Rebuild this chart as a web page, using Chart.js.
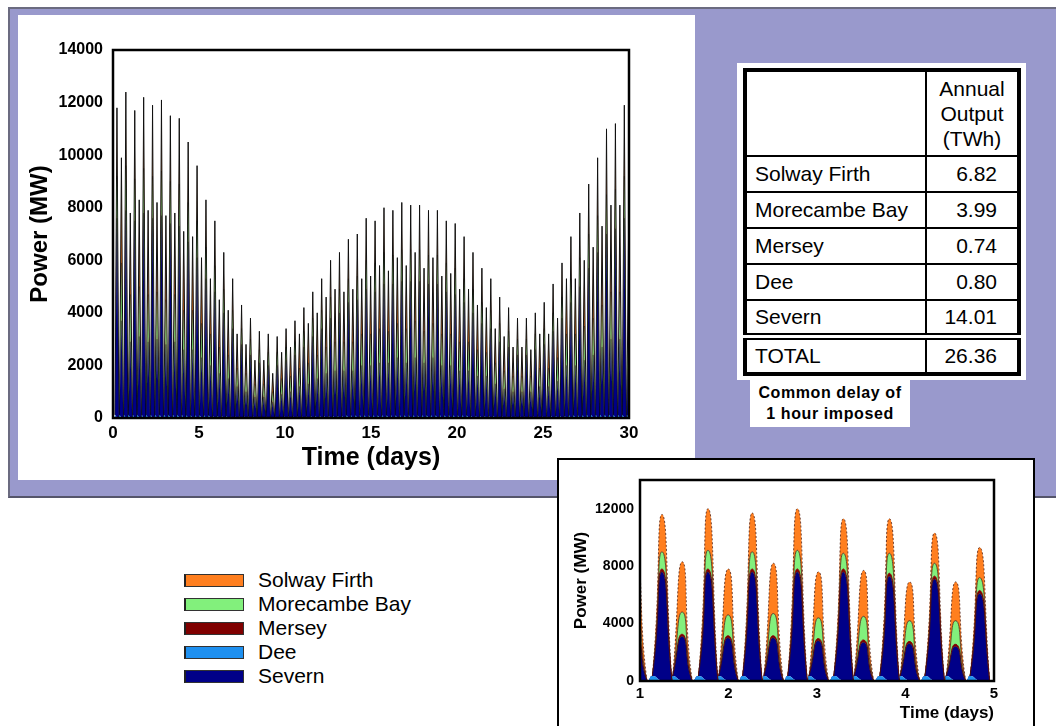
<!DOCTYPE html>
<html>
<head>
<meta charset="utf-8">
<script src="https://cdn.jsdelivr.net/npm/chart.js@4.4.1/dist/chart.umd.min.js"></script>
<style>
  html, body { margin:0; padding:0; background:#fff; }
  body { width:1056px; height:726px; position:relative; overflow:hidden; font-family:"Liberation Sans", Arial, sans-serif; }
  .abs { position:absolute; }
  #panel { left:8px; top:7px; width:1048px; height:491px; background:#9999cc; border-top:2px solid #6b6b80; border-left:2px solid #6b6b80; border-bottom:2px solid #55556a; box-sizing:border-box; }
  #mainBox { left:18px; top:15px; width:677px; height:465px; background:#fff; }
  #tblBox { left:737px; top:63px; width:289px; height:317px; background:#fff; }
  #tbl { left:743px; top:68px; width:278px; border:4px solid #000; border-collapse:collapse; box-sizing:border-box; font-size:21px; color:#000; }
  #tbl td { border:2px solid #000; padding:0; }
  #tbl td.n { padding-left:8px; }
  #tbl td.v { text-align:right; padding-right:20px; }
  #tbl tr.tot td { border-top:7px double #000; }
  #cap { left:750px; top:380px; width:160px; height:47px; background:#fff; font-weight:bold; font-size:16px; letter-spacing:0.6px; text-align:center; line-height:21px; padding-top:2px; box-sizing:border-box; }
  #inset { left:557px; top:458px; width:478px; height:290px; background:#fff; border:2px solid #000; box-sizing:border-box; }
  .sw { position:absolute; left:184px; width:60px; height:13px; box-sizing:border-box; border:1px solid #333; border-left:2px solid #222; }
  .lt { position:absolute; left:258px; font-size:21px; line-height:24px; color:#000; }
</style>
</head>
<body>
<div id="panel" class="abs"></div>
<div id="mainBox" class="abs"><canvas id="mainChart" width="677" height="465"></canvas></div>

<div id="tblBox" class="abs"></div>
<table id="tbl" class="abs">
  <tr style="height:86px"><td class="n" style="width:170px"></td><td style="text-align:center;line-height:25px">Annual<br>Output<br>(TWh)</td></tr>
  <tr style="height:36px"><td class="n">Solway Firth</td><td class="v">6.82</td></tr>
  <tr style="height:36px"><td class="n">Morecambe Bay</td><td class="v">3.99</td></tr>
  <tr style="height:36px"><td class="n">Mersey</td><td class="v">0.74</td></tr>
  <tr style="height:36px"><td class="n">Dee</td><td class="v">0.80</td></tr>
  <tr style="height:36px"><td class="n">Severn</td><td class="v">14.01</td></tr>
  <tr class="tot" style="height:38px"><td class="n">TOTAL</td><td class="v">26.36</td></tr>
</table>
<div id="cap" class="abs">Common delay of<br>1 hour imposed</div>

<div id="legend"></div>

<div id="inset" class="abs"><canvas id="insetChart" width="474" height="268"></canvas></div>

<script>
// ---------------- DATA ----------------
const seriesNames = ["Solway Firth", "Morecambe Bay", "Mersey", "Dee", "Severn"];
const seriesColors = { "Solway Firth":"#ff7f1f", "Morecambe Bay":"#82f07c", "Mersey":"#800000", "Dee":"#1e90f0", "Severn":"#000088" };

// Main chart: peak output (MW) of each generation pulse, 30 days.
const tideStartDay = 0.23;     // day of first tall pulse
const tidePeriodDays = 0.5175; // spacing of tall pulses
const halfTideDays = 0.2588;   // offset of short pulse after tall pulse

const severnTall = [7600,7900,7500,7800,7600,7700,7400,7300,6700,6100, 5300,4800,4000,3400,2800,2400,2100,2000,2000,2200, 2400,2700,3100,3400,3800,4000,4400,4500,4900,4800, 5100,5100,5200,5200,5200,5100,5100,4800,4700,4400, 4000,3600,3400,2900,2700,2400,2400,2600,2800,3300, 3800,4400,5000,5700,6300,7000,7200,7600];
const merseyTall = [200,200,200,200,200,200,200,200,200,200, 200,100,100,100,100,100,100,100,100,100, 100,100,100,100,100,100,100,100,200,200, 200,200,200,200,200,200,200,200,100,100, 100,100,100,100,100,100,100,100,100,100, 100,100,200,200,200,200,200,200];
const morecambeTall = [1400,1500,1400,1500,1400,1500,1400,1400,1300,1200, 1000,900,800,600,500,500,400,400,400,400, 400,500,600,600,700,800,800,800,900,900, 1000,900,1000,1000,1000,900,900,900,900,800, 800,700,600,600,500,500,500,500,500,600, 700,800,900,1100,1200,1300,1300,1400];
const solwayTall = [2600,2800,2600,2700,2700,2700,2500,2500,2300,2100, 1800,1700,1400,1200,900,800,700,700,600,700, 800,900,1000,1200,1400,1400,1500,1600,1600,1600, 1700,1700,1800,1700,1700,1700,1700,1600,1700,1600, 1400,1300,1200,1000,900,800,800,800,1000,1100, 1300,1600,1700,1900,2200,2500,2500,2700];

const severnShort = [3700,2900,3100,2900,3000,2800,2900,2600,2600,2300, 2000,1700,1500,1200,1000,800,800,600,900,1000, 1200,1300,1500,1700,1800,1800,1800,2000,2000,2100, 2100,2300,2100,2300,2100,2300,2000,2000,1800,1800, 1600,1600,1300,1100,1000,1000,1000,1200,1200,1400, 2000,2000,2200,2400,2700,3000,3000,2900];
const merseyShort = [200,200,200,200,200,200,200,100,100,100, 100,100,100,100,100,100,100,100,100,100, 100,100,100,100,100,100,100,100,100,100, 100,100,100,100,100,100,100,100,100,100, 100,100,100,100,100,100,100,100,100,100, 100,100,100,100,100,200,200,200];
const morecambeShort = [2000,1600,1700,1600,1600,1500,1600,1400,1400,1200, 1100,900,800,600,600,400,400,300,500,500, 600,700,800,900,1000,1000,1000,1100,1100,1200, 1100,1200,1200,1300,1100,1200,1100,1100,1000,1000, 900,800,700,600,500,500,500,600,600,800, 1100,1100,1200,1300,1500,1600,1600,1600];
const solwayShort = [4000,3100,3300,3200,3400,3200,3100,3000,2800,2500, 2100,1800,1700,1300,1100,900,900,700,1000,1100, 1300,1500,1600,1900,2000,1900,2000,2100,2200,2400, 2300,2500,2400,2600,2400,2500,2200,2300,2000,2000, 1700,1700,1300,1300,1100,1100,1000,1300,1300,1500, 2100,2100,2500,2700,3000,3300,3300,3100];
const deePulse = [120,120,120,120,120,120,120,120,100,100, 100,80,80,60,60,60,50,50,50,60, 60,60,80,80,80,80,100,100,100,100, 100,100,100,100,100,100,100,100,100,100, 80,80,80,60,60,60,60,60,60,80, 80,100,100,120,120,120,120,120];

const mainYTicks = [0,2000,4000,6000,8000,10000,12000,14000];
const mainXTicks = [0,5,10,15,20,25,30];

// Inset: days 1-5, peak of each pulse (MW)
const insetPeakDays  = [0.97,1.25,1.48,1.77,2.00,2.27,2.51,2.78,3.02,3.30,3.53,3.82,4.05,4.33,4.57,4.84];
const insetSevern    = [2900,7600,3100,7600,3000,7600,3000,7600,2800,7600,2700,7300,2600,7100,2400,6100];
const insetMersey    = [150,200,150,200,150,200,150,200,150,200,150,200,150,200,150,200];
const insetMorecambe = [1350,1200,1550,1300,1450,1200,1550,1300,1450,1100,1650,1400,1450,900,1650,900];
const insetSolway    = [3500,2600,3500,2900,3200,2700,3500,2900,3200,2400,3200,2400,2700,2100,2700,2100];
const insetDee       = [300,350,350,350,350,350,350,350,350,350,350,350,350,350,350,350];
const insetYTicks = [0,4000,8000,12000];
const insetXTicks = [1,2,3,4,5];

// ---------------- LEGEND (HTML) ----------------
(function(){
  const lg = document.getElementById('legend');
  seriesNames.forEach((n,i)=>{
    const top = 574 + i*24;
    const sw = document.createElement('div'); sw.className='sw'; sw.style.top = top+'px'; sw.style.background = seriesColors[n];
    const tx = document.createElement('div'); tx.className='lt'; tx.style.top = (top-6)+'px'; tx.textContent = n;
    lg.appendChild(sw); lg.appendChild(tx);
  });
})();

// ---------------- BUILD SERIES ----------------
function buildPulses(list, halfW){
  const out = {Dee:[], Severn:[], Mersey:[], "Morecambe Bay":[], "Solway Firth":[]};
  list.forEach(p=>{
    const b = p.t-halfW, e = p.t+halfW;
    out.Dee.push({x:b,y:p.dee},{x:p.t,y:0},{x:e,y:0});
    out.Severn.push({x:b,y:0},{x:p.t,y:p.sev},{x:e,y:0});
    out.Mersey.push({x:b,y:0},{x:p.t,y:p.mer},{x:e,y:0});
    out["Morecambe Bay"].push({x:b,y:0},{x:p.t,y:p.mor},{x:e,y:0});
    out["Solway Firth"].push({x:b,y:0},{x:p.t,y:p.sol},{x:e,y:0});
  });
  return out;
}
function buildMain(){
  const pulses = [];
  for (let k=0;k<severnTall.length;k++){
    const t = tideStartDay + k*tidePeriodDays;
    pulses.push({t, dee:deePulse[k], sev:severnTall[k], mer:merseyTall[k], mor:morecambeTall[k], sol:solwayTall[k]});
    pulses.push({t:t+halfTideDays, dee:deePulse[k], sev:severnShort[k], mer:merseyShort[k], mor:morecambeShort[k], sol:solwayShort[k]});
  }
  return buildPulses(pulses, 0.11);
}
function buildInset(){
  const pulses = insetPeakDays.map((t,i)=>({t, dee:insetDee[i], sev:insetSevern[i], mer:insetMersey[i], mor:insetMorecambe[i], sol:insetSolway[i]}));
  return buildPulses(pulses, 0.11);
}

const stackOrder = ["Dee","Severn","Mersey","Morecambe Bay","Solway Firth"];

const framePlugin = {
  id:'frame',
  afterDraw(chart, args, opts){
    const a = chart.chartArea, ctx = chart.ctx;
    ctx.save();
    ctx.lineWidth = opts.width || 2;
    ctx.strokeStyle = '#000';
    ctx.strokeRect(a.left, a.top, a.right-a.left, a.bottom-a.top);
    ctx.restore();
  }
};

Chart.defaults.font.family = '"Liberation Sans", Arial, sans-serif';
Chart.defaults.color = '#000';
const plain = v => String(v);

// ---------------- MAIN CHART ----------------
(function(){
  const d = buildMain();
  const borders = { "Dee":0, "Severn":0.5, "Mersey":0, "Morecambe Bay":0.5, "Solway Firth":1 };
  const datasets = stackOrder.map((n,i)=>({
    label:n, data:d[n],
    backgroundColor: seriesColors[n],
    borderColor: n==="Solway Firth" ? '#111' : 'rgba(0,0,0,0.55)',
    borderWidth: borders[n],
    fill: i===0 ? 'origin' : '-1',
    tension: 0, pointRadius: 0
  }));
  new Chart(document.getElementById('mainChart'), {
    type:'line',
    data:{ datasets },
    options:{
      responsive:false, animation:false, devicePixelRatio:1,
      layout:{ padding:{ left:0, right:66, top:35, bottom:0 } },
      plugins:{ legend:{display:false}, tooltip:{enabled:false}, frame:{width:2.5} },
      scales:{
        x:{ type:'linear', min:0, max:30,
            afterBuildTicks(s){ s.ticks = mainXTicks.map(v=>({value:v})); },
            afterFit(s){ s.height = 62; },
            grid:{display:false, drawTicks:false}, border:{display:false},
            ticks:{ padding:5, callback:plain, font:{ family:'"Liberation Sans Narrow", "Liberation Sans", Arial', weight:'bold', size:17 }, maxRotation:0 },
            title:{ display:true, text:'Time (days)', font:{ weight:'bold', size:25 }, padding:{top:0,bottom:7} } },
        y:{ stacked:true, min:0, max:14000,
            afterBuildTicks(s){ s.ticks = mainYTicks.map(v=>({value:v})); },
            afterFit(s){ s.width = 95; },
            grid:{display:false, drawTicks:false}, border:{display:false},
            ticks:{ padding:10, callback:plain, font:{ weight:'bold', size:16 } },
            title:{ display:true, text:'Power (MW)', font:{ weight:'bold', size:24 }, padding:{top:8,bottom:0} } }
      }
    },
    plugins:[framePlugin]
  });
})();

// ---------------- INSET CHART ----------------
(function(){
  const d = buildInset();
  const datasets = stackOrder.map((n,i)=>({
    label:n, data:d[n],
    backgroundColor: seriesColors[n],
    borderColor: n==="Mersey" ? '#800000' : 'rgba(70,20,10,0.75)',
    borderWidth: n==="Dee" ? 0 : 1,
    borderDash: n==="Solway Firth" ? [2,2] : [],
    fill: i===0 ? 'origin' : '-1',
    tension: 0.6, pointRadius:0
  }));
  new Chart(document.getElementById('insetChart'), {
    type:'line',
    data:{ datasets },
    options:{
      responsive:false, animation:false, devicePixelRatio:1,
      layout:{ padding:{ left:0, right:39, top:20, bottom:0 } },
      plugins:{ legend:{display:false}, tooltip:{enabled:false}, frame:{width:2.5} },
      scales:{
        x:{ type:'linear', min:1, max:5,
            afterBuildTicks(s){ s.ticks = insetXTicks.map(v=>({value:v})); },
            afterFit(s){ s.height = 47; },
            grid:{display:false, drawTicks:false}, border:{display:false},
            ticks:{ padding:4, callback:plain, font:{ weight:'bold', size:15 }, maxRotation:0 },
            title:{ display:true, text:'Time (days)', align:'end', font:{ weight:'bold', size:17 }, padding:{top:0,bottom:4} } },
        y:{ stacked:true, min:0, max:14000,
            afterBuildTicks(s){ s.ticks = insetYTicks.map(v=>({value:v})); },
            afterFit(s){ s.width = 81; },
            grid:{display:false, drawTicks:false}, border:{display:false},
            ticks:{ padding:6, callback:plain, font:{ weight:'bold', size:14 } },
            title:{ display:true, text:'Power (MW)', font:{ weight:'bold', size:17 }, padding:{top:12,bottom:0} } }
      }
    },
    plugins:[framePlugin]
  });
})();
</script>
</body>
</html>
